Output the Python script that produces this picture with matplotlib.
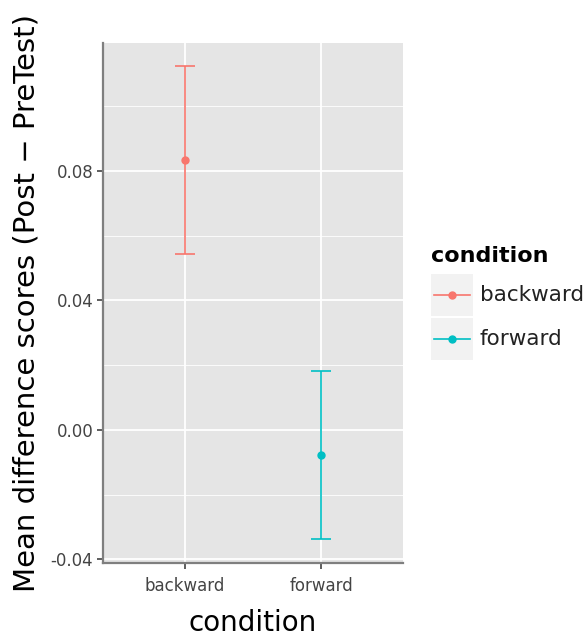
import matplotlib
matplotlib.use("Agg")
import matplotlib.pyplot as plt
from matplotlib.patches import Rectangle
from matplotlib.lines import Line2D
from matplotlib.ticker import MultipleLocator

conditions = ["backward", "forward"]
means = [0.0834, -0.0078]
lower = [0.0544, -0.0338]
upper = [0.1125, 0.0183]
colors = ["#F8766D", "#00BFC4"]
yticks = [-0.04, 0.00, 0.04, 0.08]
ytick_labels = ["-0.04", "0.00", "0.04", "0.08"]
xlabel = "condition"
ylabel = "Mean difference scores (Post \u2212 PreTest)"
legend_title = "condition"

W, H = 588, 636
plt.rcParams["font.family"] = ["DejaVu Sans"]
fig = plt.figure(figsize=(W / 100, H / 100), dpi=100)
fig.patch.set_facecolor("white")

def fx(x):
    return x / W

def fy(y):
    return 1 - y / H

ax = fig.add_axes([fx(103), fy(563), fx(403) - fx(103), fy(43) - fy(563)])
ax.set_facecolor("#E5E5E5")
ax.set_xlim(0.4, 2.6)
ax.set_ylim(-0.0411, 0.1195)

ax.yaxis.set_minor_locator(MultipleLocator(0.02))
ax.set_yticks(yticks)
ax.set_yticklabels(ytick_labels)
ax.set_xticks([1, 2])
ax.set_xticklabels(conditions)
ax.grid(True, which="major", color="white", linewidth=1.3)
ax.grid(True, which="minor", axis="y", color="white", linewidth=0.6)
ax.set_axisbelow(True)

for i, (c, m, lo, hi, col) in enumerate(zip(conditions, means, lower, upper, colors)):
    x = i + 1
    ax.errorbar([x], [m], yerr=[[m - lo], [hi - m]], fmt="o", color=col,
                ecolor=col, elinewidth=1.2, capsize=7.4, capthick=1.2,
                markersize=5, zorder=3)

for s in ["top", "right"]:
    ax.spines[s].set_visible(False)
for s in ["left", "bottom"]:
    ax.spines[s].set_color("#7F7F7F")
    ax.spines[s].set_linewidth(1.6)

ax.tick_params(axis="both", which="major", length=4, width=1.1, color="#333333",
               labelsize=12, labelcolor="#444444")
ax.tick_params(axis="x", which="major", pad=6)
ax.tick_params(axis="y", which="major", pad=3)
ax.tick_params(axis="y", which="minor", length=0)
ax.set_xlabel(xlabel, fontsize=20, labelpad=10)
ax.set_ylabel(ylabel, fontsize=21, labelpad=7)

# legend
fig.text(fx(431), fy(256), legend_title, fontsize=16, fontweight="bold",
         ha="left", va="center")
key_tops = [274, 318]
for top, lab, col in zip(key_tops, conditions, colors):
    fig.add_artist(Rectangle((fx(431), fy(top + 42)), fx(42), 42 / H,
                             transform=fig.transFigure, facecolor="#F2F2F2",
                             edgecolor="none"))
    cy = top + 21
    fig.add_artist(Line2D([fx(434), fx(470)], [fy(cy), fy(cy)],
                          transform=fig.transFigure, color=col, linewidth=1.2))
    fig.add_artist(Line2D([fx(452)], [fy(cy)], transform=fig.transFigure,
                          color=col, marker="o", markersize=5))
    fig.text(fx(480), fy(cy), lab, fontsize=15.5, ha="left", va="center",
             color="#222222")

fig.savefig("out.png", dpi=100)
